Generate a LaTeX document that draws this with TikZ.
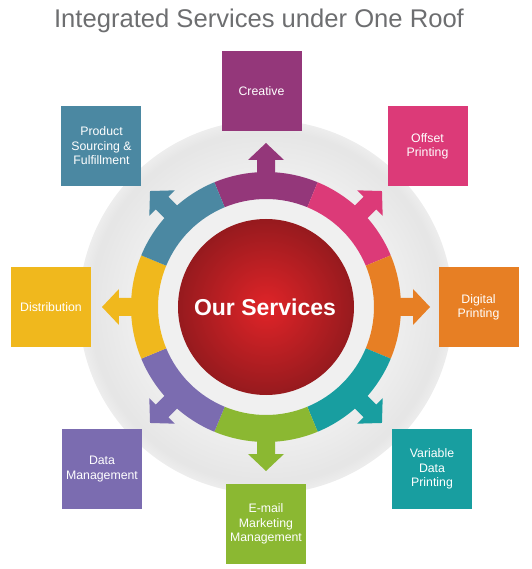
\documentclass[tikz,border=0pt]{standalone}
\usepackage{fontspec}
\setmainfont{Liberation Sans}
\definecolor{titlegray}{RGB}{109,110,112}
\definecolor{creativec}{RGB}{148,55,122}
\definecolor{offsetc}{RGB}{220,58,120}
\definecolor{digitalc}{RGB}{231,127,36}
\definecolor{variablec}{RGB}{24,158,160}
\definecolor{emailc}{RGB}{139,184,50}
\definecolor{datac}{RGB}{123,108,176}
\definecolor{distribc}{RGB}{240,184,29}
\definecolor{sourcingc}{RGB}{75,136,162}
\definecolor{redhi}{RGB}{224,36,40}
\definecolor{redlo}{RGB}{150,26,30}
\pgfdeclareradialshading{graydisc}{\pgfpoint{0bp}{0bp}}{color(0bp)=(black!5); color(15bp)=(black!5); color(23.5bp)=(black!10); color(25bp)=(black!7); color(50bp)=(black!7)}
\pgfdeclareradialshading{redball}{\pgfpoint{0bp}{0bp}}{color(0bp)=(redhi); color(25bp)=(redlo); color(50bp)=(redlo)}
\tikzset{svcbox/.style={minimum width=80pt, minimum height=80pt, inner sep=0pt,
  text=white, align=center, font=\fontsize{12.3}{14.5}\selectfont}}

\begin{document}
\begin{tikzpicture}[x=1pt,y=1pt]
  \useasboundingbox (-266,-262) rectangle (265,307);
  \node[anchor=base, text=titlegray, font=\fontsize{25.6}{30}\selectfont] (title) at (-7,279) {Integrated Services under One Roof};
  \shade[shading=graydisc] (0,0) circle[radius=187pt];
  \fill[black!6] (0,0) circle[radius=108pt];
  \foreach \a/\c in {90/creativec, 45/offsetc, 0/digitalc, -45/variablec, -90/emailc, -135/datac, 180/distribc, 135/sourcingc} {
    \fill[\c] ({\a-22.5}:108) arc[start angle=\a-22.5, end angle=\a+22.5, radius=108pt]
      -- ({\a+22.5}:135) arc[start angle=\a+22.5, end angle=\a-22.5, radius=135pt] -- cycle;
    \fill[\c, rotate=\a] (129,-9) -- (147,-9) -- (147,-18) -- (164,0) -- (147,18) -- (147,9) -- (129,9) -- cycle;
  }
  \shade[shading=redball] (0,0) circle[radius=88pt];
  \node[text=white, font=\bfseries\fontsize{23}{28}\selectfont] (ours) at (-1,0) {Our Services};
  \node[svcbox, fill=creativec] (creative) at (-4.5,216) {Creative};
  \node[svcbox, fill=offsetc] (offset) at (161.5,160.5) {Offset\\Printing};
  \node[svcbox, fill=digitalc] (digital) at (212.5,-0.5) {Digital\\Printing};
  \node[svcbox, fill=variablec] (variable) at (166,-162) {Variable\\Data\\Printing};
  \node[svcbox, fill=emailc] (email) at (0,-217) {E-mail\\Marketing\\Management};
  \node[svcbox, fill=datac] (datamgmt) at (-164,-162) {Data\\Management};
  \node[svcbox, fill=distribc] (distrib) at (-215,0) {Distribution};
  \node[svcbox, fill=sourcingc] (sourcing) at (-164.5,161) {Product\\Sourcing \&\\Fulfillment};
\end{tikzpicture}
\end{document}
